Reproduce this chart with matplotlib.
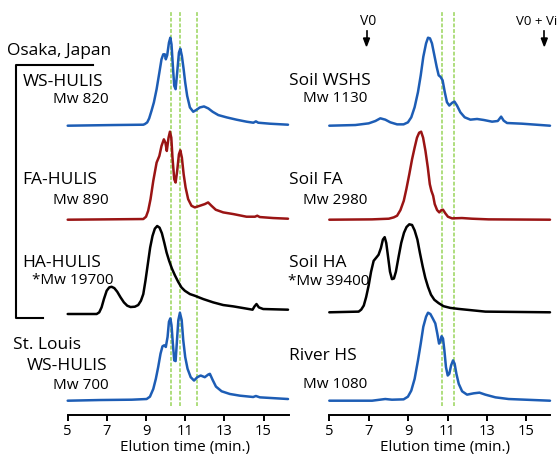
import numpy as np
import matplotlib
matplotlib.use("Agg")
import matplotlib.pyplot as plt

plt.rcParams['font.family'] = ['Open Sans', 'DejaVu Sans']

# ---- data: elution time (min) / detector signal (arbitrary units) ----
# Osaka, Japan WS-HULIS
ws_t = [5.0, 7.33, 8.86, 8.94, 9.06, 9.16, 9.28, 9.40, 9.54, 9.68, 9.79, 9.88, 9.96, 10.01, 10.08,
        10.17, 10.24, 10.3, 10.37, 10.44, 10.51, 10.59, 10.68, 10.75, 10.83, 10.92, 11.0, 11.1, 11.24,
        11.41, 11.58, 11.75, 11.96, 12.18, 12.4, 12.69, 13.12, 13.63, 14.14, 14.48, 14.61, 14.73,
        15.33, 16.25]
ws_v = [0, 2, 3, 5, 10, 22, 45, 70, 110, 160, 200, 215, 215, 200, 212,
        250, 265, 245, 180, 120, 110, 160, 220, 232, 210, 170, 130, 90, 55,
        42, 48, 55, 58, 52, 42, 32, 25, 18, 12, 9, 13, 9,
        6, 3]
# FA-HULIS
fa_t = [5.0, 8.86, 9.0, 9.11, 9.23, 9.37, 9.54, 9.68, 9.79, 9.91, 9.99, 10.06, 10.15, 10.22, 10.29,
        10.35, 10.44, 10.51, 10.59, 10.68, 10.75, 10.83, 10.92, 11.02, 11.15, 11.32, 11.49, 11.75,
        12.0, 12.17, 12.34, 12.56, 12.94, 13.45, 14.13, 14.56, 14.68, 14.81, 15.49, 16.25]
fa_v = [0, 2, 9, 27, 62, 117, 172, 192, 222, 242, 232, 207, 247, 265, 247,
        187, 122, 112, 147, 197, 209, 187, 137, 97, 62, 42, 37, 42,
        47, 52, 42, 30, 22, 17, 9, 9, 12, 8, 5, 3]
# HA-HULIS
ha_t = [5.0, 6.48, 6.61, 6.73, 6.85, 6.99, 7.12, 7.24, 7.38, 7.53, 7.7, 7.87, 8.04, 8.21, 8.43,
        8.6, 8.74, 8.86, 8.97, 9.09, 9.21, 9.33, 9.45, 9.57, 9.69, 9.81, 9.93, 10.05, 10.18, 10.32,
        10.47, 10.64, 10.81, 10.98, 11.24, 11.49, 11.92, 12.43, 12.94, 13.45, 14.05, 14.44, 14.54,
        14.64, 14.76, 14.98, 16.25]
ha_v = [0, 0, 5, 20, 45, 70, 80, 82, 78, 67, 50, 35, 25, 21, 22,
        27, 40, 60, 100, 150, 200, 235, 257, 265, 260, 243, 215, 185, 160, 137,
        117, 97, 80, 70, 60, 55, 45, 35, 27, 23, 17, 13, 23,
        30, 20, 15, 13]
# St. Louis WS-HULIS
sl_t = [5.0, 6.65, 8.27, 9.03, 9.2, 9.37, 9.5, 9.62, 9.74, 9.84, 9.93, 10.01, 10.1, 10.17, 10.24,
        10.3, 10.37, 10.44, 10.51, 10.58, 10.65, 10.73, 10.82, 10.9, 11.0, 11.12, 11.28, 11.45,
        11.62, 11.79, 12.0, 12.18, 12.26, 12.4, 12.57, 12.86, 13.28, 13.79, 14.47, 14.61, 14.81, 16.25]
sl_v = [0, 2, 3, 5, 12, 35, 65, 100, 140, 162, 165, 160, 190, 235, 245,
        225, 170, 120, 118, 180, 240, 262, 240, 180, 130, 95, 70, 60,
        70, 75, 70, 78, 80, 62, 42, 28, 20, 15, 11, 14, 10, 5]

# Soil WSHS
sw_t = [5.0, 6.32, 7.0, 7.34, 7.59, 7.84, 8.1, 8.44, 8.77, 8.99, 9.16, 9.33, 9.5, 9.64, 9.77,
        9.91, 10.01, 10.11, 10.21, 10.33, 10.45, 10.55, 10.65, 10.75, 10.86, 10.97, 11.09, 11.23,
        11.35, 11.48, 11.65, 11.87, 12.16, 12.5, 12.84, 13.26, 13.55, 13.72, 13.85, 14.02, 14.78, 16.2]
sw_v = [0, 2, 7, 14, 22, 18, 10, 4, 4, 10, 25, 55, 100, 150, 205,
        245, 262, 260, 245, 210, 175, 150, 145, 135, 100, 70, 60, 68,
        72, 60, 40, 25, 18, 20, 17, 12, 14, 27, 15, 8, 6, 0]
# Soil FA
sf_t = [5.0, 7.17, 8.02, 8.27, 8.44, 8.61, 8.78, 8.91, 9.06, 9.2, 9.33, 9.45, 9.56, 9.66, 9.76,
        9.88, 10.0, 10.1, 10.18, 10.27, 10.35, 10.47, 10.58, 10.69, 10.77, 10.89, 11.02, 11.23,
        11.73, 12.24, 13.08, 16.2]
sf_v = [0, 1, 3, 7, 12, 29, 57, 92, 137, 182, 217, 247, 262, 265, 247,
        207, 157, 107, 87, 72, 47, 29, 22, 29, 30, 19, 9, 4,
        5, 3, 1, 0]
# Soil HA
sh_t = [5.0, 6.49, 6.62, 6.75, 6.87, 7.0, 7.12, 7.25, 7.39, 7.5, 7.62, 7.72, 7.81, 7.89, 7.98,
        8.08, 8.18, 8.28, 8.38, 8.52, 8.65, 8.79, 8.92, 9.06, 9.2, 9.33, 9.47, 9.6, 9.74, 9.87,
        10.01, 10.16, 10.33, 10.55, 10.8, 11.14, 11.56, 12.24, 12.92, 16.2]
sh_v = [0, 2, 8, 20, 45, 80, 120, 152, 162, 170, 190, 215, 222, 205, 165,
        120, 98, 100, 120, 165, 205, 235, 252, 260, 258, 242, 215, 175, 135, 102,
        75, 52, 37, 27, 18, 13, 10, 6, 2, 0]
# River HS
rh_t = [5.0, 7.17, 7.84, 8.18, 8.77, 8.99, 9.16, 9.33, 9.5, 9.64, 9.77, 9.91, 10.01, 10.13, 10.25,
        10.38, 10.48, 10.57, 10.63, 10.7, 10.77, 10.84, 10.92, 11.01, 11.09, 11.18, 11.28, 11.36,
        11.45, 11.57, 11.74, 11.99, 12.33, 12.62, 12.92, 13.43, 14.1, 16.2]
rh_v = [0, 0, 5, 3, 4, 12, 30, 65, 120, 170, 220, 250, 262, 258, 245,
        230, 200, 170, 175, 192, 185, 150, 100, 75, 80, 105, 120, 110,
        80, 50, 28, 18, 22, 24, 18, 10, 5, 0]

left_marks = [10.25, 10.73, 11.58]
right_marks = [10.7, 11.33]
ticks = [5, 7, 9, 11, 13, 15]

blue = '#1d5db5'
red = '#9a1414'
black = '#000000'
green = '#98d45a'

W, H = 559, 456
fig = plt.figure(figsize=(W / 100, H / 100), dpi=100)

def fx(px):
    return px / W

def fy(py):
    return 1 - py / H

# axes span in pixels: top 13, bottom spine 416
top_px, bot_px = 13, 416
scale = 88  # trace height in px

def make_ax(left_px, right_px, xmax):
    ax = fig.add_axes([fx(left_px), fy(bot_px), (right_px - left_px) / W, (bot_px - top_px) / H])
    ax.set_xlim(5, xmax)
    ax.set_ylim(0, bot_px - top_px)
    for s in ['top', 'right', 'left']:
        ax.spines[s].set_visible(False)
    ax.spines['bottom'].set_linewidth(1.4)
    ax.set_yticks([])
    ax.set_xticks(ticks)
    ax.tick_params(axis='x', direction='out', length=4, width=1.4, labelsize=10.5, pad=2)
    ax.patch.set_alpha(0)
    return ax

axL = make_ax(67.7, 289, 16.3)
axR = make_ax(329.3, 550, 16.2)

for m in left_marks:
    axL.axvline(m, ymin=0.022, ymax=1.0, color=green, lw=1.1, ls=(0, (2.5, 1.2)), zorder=1)
for m in right_marks:
    axR.axvline(m, ymin=0.022, ymax=1.0, color=green, lw=1.1, ls=(0, (2.5, 1.2)), zorder=1)

def trace(ax, t, v, base_py, color):
    v = np.array(v, dtype=float)
    base = bot_px - base_py
    ax.plot(t, base + v / v.max() * scale, color=color, lw=1.8, zorder=3, clip_on=False,
            solid_joinstyle='round', solid_capstyle='round')

trace(axL, ws_t, ws_v, 126.7, blue)
trace(axL, fa_t, fa_v, 220.7, red)
trace(axL, ha_t, ha_v, 315, black)
trace(axL, sl_t, sl_v, 401.7, blue)

trace(axR, sw_t, sw_v, 126.7, blue)
trace(axR, sf_t, sf_v, 220.7, red)
trace(axR, sh_t, sh_v, 313.3, black)
trace(axR, rh_t, rh_v, 401.7, blue)

# x labels
fig.text(fx(185), fy(451), 'Elution time (min.)', ha='center', va='baseline', fontsize=11)
fig.text(fx(445), fy(451), 'Elution time (min.)', ha='center', va='baseline', fontsize=11)

# sample labels
big, small = 12.5, 11
labels = [
    ('Osaka, Japan', 7, 55, big),
    ('WS-HULIS', 22.7, 86, big),
    ('Mw 820', 53.3, 102.7, small),
    ('FA-HULIS', 22.7, 184.3, big),
    ('Mw 890', 53.3, 204, small),
    ('HA-HULIS', 22.7, 266.7, big),
    ('*Mw 19700', 32.3, 284, small),
    ('St. Louis', 13.3, 349.3, big),
    ('WS-HULIS', 26.7, 370, big),
    ('Mw 700', 53.3, 389.3, small),
    ('Soil WSHS', 289.3, 85, big),
    ('Mw 1130', 302.7, 101.7, small),
    ('Soil FA', 289.3, 184.3, big),
    ('Mw 2980', 302.7, 204, small),
    ('Soil HA', 289.3, 266.7, big),
    ('*Mw 39400', 288.3, 285, small),
    ('River HS', 289.3, 360, big),
    ('Mw 1080', 302.7, 388.3, small),
]
for s, x, y, fs in labels:
    fig.text(fx(x), fy(y), s, ha='left', va='baseline', fontsize=fs)

# bracket for Osaka samples
fig.add_artist(plt.Line2D([fx(93), fx(16), fx(16), fx(43)], [fy(66), fy(66), fy(319), fy(319)],
                          color='black', lw=1.5))

# V0 / V0 + Vi markers
fig.text(fx(368), fy(25), 'V0', ha='center', va='baseline', fontsize=10)
fig.text(fx(557), fy(25), 'V0 + Vi', ha='right', va='baseline', fontsize=9.5)
for xa in [366.5, 544.3]:
    fig.add_artist(plt.Line2D([fx(xa), fx(xa)], [fy(32), fy(42)], color='black', lw=1.2))
    fig.add_artist(plt.Polygon([[fx(xa - 3), fy(39)], [fx(xa + 3), fy(39)], [fx(xa), fy(47)]],
                               closed=True, color='black', transform=fig.transFigure))

fig.savefig('out.png', dpi=100)
